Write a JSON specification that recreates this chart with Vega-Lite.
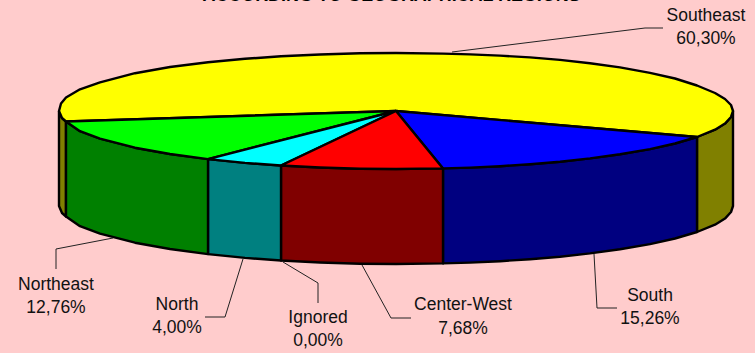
{"$schema":"https://vega.github.io/schema/vega-lite/v6.json","width":755,"height":353,"padding":0,"autosize":"none","background":"#FFCCCC","view":{"stroke":null},
"title":{"text":"ACCORDING TO GEOGRAPHICAL REGIONS","offset":-5,"dx":14,"anchor":"middle","fontSize":17.9,"font":"Liberation Sans","fontWeight":"bold","color":"#000000"},
"datasets":{"pieces":[
{"p":"Southeast side","i":1,"x":697,"y":137},{"p":"Southeast side","i":2,"x":715,"y":129.7},{"p":"Southeast side","i":3,"x":725,"y":123.6},{"p":"Southeast side","i":4,"x":731,"y":117},{"p":"Southeast side","i":5,"x":733,"y":111},{"p":"Southeast side","i":6,"x":733,"y":206},{"p":"Southeast side","i":7,"x":731,"y":212},{"p":"Southeast side","i":8,"x":725,"y":218.6},{"p":"Southeast side","i":9,"x":715,"y":224.7},{"p":"Southeast side","i":10,"x":697,"y":232},{"p":"Southeast side","i":11,"x":697,"y":137},
{"p":"Southeast side left","i":1,"x":59,"y":111},{"p":"Southeast side left","i":2,"x":62,"y":118},{"p":"Southeast side left","i":3,"x":66,"y":121.5},{"p":"Southeast side left","i":4,"x":66,"y":216.5},{"p":"Southeast side left","i":5,"x":62,"y":213},{"p":"Southeast side left","i":6,"x":59,"y":206},{"p":"Southeast side left","i":7,"x":59,"y":111},
{"p":"South side","i":1,"x":443,"y":168.4},{"p":"South side","i":2,"x":470,"y":167.6},{"p":"South side","i":3,"x":500,"y":166.2},{"p":"South side","i":4,"x":530,"y":164.2},{"p":"South side","i":5,"x":560,"y":161.7},{"p":"South side","i":6,"x":590,"y":158.4},{"p":"South side","i":7,"x":620,"y":154.3},{"p":"South side","i":8,"x":650,"y":149.1},{"p":"South side","i":9,"x":675,"y":143.5},{"p":"South side","i":10,"x":697,"y":137},{"p":"South side","i":11,"x":697,"y":232},{"p":"South side","i":12,"x":675,"y":238.5},{"p":"South side","i":13,"x":650,"y":244.1},{"p":"South side","i":14,"x":620,"y":249.3},{"p":"South side","i":15,"x":590,"y":253.4},{"p":"South side","i":16,"x":560,"y":256.7},{"p":"South side","i":17,"x":530,"y":259.2},{"p":"South side","i":18,"x":500,"y":261.2},{"p":"South side","i":19,"x":470,"y":262.6},{"p":"South side","i":20,"x":443,"y":263.4},{"p":"South side","i":21,"x":443,"y":168.4},
{"p":"Center-West side","i":1,"x":281,"y":165.5},{"p":"Center-West side","i":2,"x":320,"y":167.5},{"p":"Center-West side","i":3,"x":360,"y":168.7},{"p":"Center-West side","i":4,"x":396,"y":169},{"p":"Center-West side","i":5,"x":443,"y":168.4},{"p":"Center-West side","i":6,"x":443,"y":263.4},{"p":"Center-West side","i":7,"x":396,"y":264},{"p":"Center-West side","i":8,"x":360,"y":263.7},{"p":"Center-West side","i":9,"x":320,"y":262.5},{"p":"Center-West side","i":10,"x":281,"y":260.5},{"p":"Center-West side","i":11,"x":281,"y":165.5},
{"p":"North side","i":1,"x":208,"y":159.1},{"p":"North side","i":2,"x":245,"y":162.9},{"p":"North side","i":3,"x":281,"y":165.5},{"p":"North side","i":4,"x":281,"y":260.5},{"p":"North side","i":5,"x":245,"y":257.9},{"p":"North side","i":6,"x":208,"y":254.1},{"p":"North side","i":7,"x":208,"y":159.1},
{"p":"Northeast side","i":1,"x":66,"y":121.5},{"p":"Northeast side","i":2,"x":80,"y":131.2},{"p":"Northeast side","i":3,"x":100,"y":138.7},{"p":"Northeast side","i":4,"x":135,"y":147.7},{"p":"Northeast side","i":5,"x":170,"y":154},{"p":"Northeast side","i":6,"x":208,"y":159.1},{"p":"Northeast side","i":7,"x":208,"y":254.1},{"p":"Northeast side","i":8,"x":170,"y":249},{"p":"Northeast side","i":9,"x":135,"y":242.7},{"p":"Northeast side","i":10,"x":100,"y":233.7},{"p":"Northeast side","i":11,"x":80,"y":226.2},{"p":"Northeast side","i":12,"x":66,"y":216.5},{"p":"Northeast side","i":13,"x":66,"y":121.5},
{"p":"Southeast top","i":1,"x":396,"y":111},{"p":"Southeast top","i":2,"x":66,"y":121.5},{"p":"Southeast top","i":3,"x":62,"y":118},{"p":"Southeast top","i":4,"x":59,"y":111},{"p":"Southeast top","i":5,"x":61,"y":103.5},{"p":"Southeast top","i":6,"x":66,"y":97.5},{"p":"Southeast top","i":7,"x":80,"y":89.3},{"p":"Southeast top","i":8,"x":100,"y":82.3},{"p":"Southeast top","i":9,"x":135,"y":73.2},{"p":"Southeast top","i":10,"x":170,"y":67},{"p":"Southeast top","i":11,"x":208,"y":62.2},{"p":"Southeast top","i":12,"x":245,"y":58.8},{"p":"Southeast top","i":13,"x":281,"y":56.3},{"p":"Southeast top","i":14,"x":320,"y":54.5},{"p":"Southeast top","i":15,"x":360,"y":53.3},{"p":"Southeast top","i":16,"x":396,"y":53},{"p":"Southeast top","i":17,"x":443,"y":53.6},{"p":"Southeast top","i":18,"x":470,"y":54.4},{"p":"Southeast top","i":19,"x":500,"y":55.6},{"p":"Southeast top","i":20,"x":530,"y":57.4},{"p":"Southeast top","i":21,"x":560,"y":59.9},{"p":"Southeast top","i":22,"x":590,"y":63.2},{"p":"Southeast top","i":23,"x":620,"y":67.4},{"p":"Southeast top","i":24,"x":650,"y":72.9},{"p":"Southeast top","i":25,"x":675,"y":78.5},{"p":"Southeast top","i":26,"x":697,"y":85.5},{"p":"Southeast top","i":27,"x":715,"y":93},{"p":"Southeast top","i":28,"x":725,"y":99},{"p":"Southeast top","i":29,"x":731,"y":105},{"p":"Southeast top","i":30,"x":733,"y":111},{"p":"Southeast top","i":31,"x":731,"y":117},{"p":"Southeast top","i":32,"x":725,"y":123.6},{"p":"Southeast top","i":33,"x":715,"y":129.7},{"p":"Southeast top","i":34,"x":697,"y":137},{"p":"Southeast top","i":35,"x":396,"y":111},
{"p":"South top","i":1,"x":396,"y":111},{"p":"South top","i":2,"x":443,"y":168.4},{"p":"South top","i":3,"x":470,"y":167.6},{"p":"South top","i":4,"x":500,"y":166.2},{"p":"South top","i":5,"x":530,"y":164.2},{"p":"South top","i":6,"x":560,"y":161.7},{"p":"South top","i":7,"x":590,"y":158.4},{"p":"South top","i":8,"x":620,"y":154.3},{"p":"South top","i":9,"x":650,"y":149.1},{"p":"South top","i":10,"x":675,"y":143.5},{"p":"South top","i":11,"x":697,"y":137},{"p":"South top","i":12,"x":396,"y":111},
{"p":"Northeast top","i":1,"x":396,"y":111},{"p":"Northeast top","i":2,"x":66,"y":121.5},{"p":"Northeast top","i":3,"x":80,"y":131.2},{"p":"Northeast top","i":4,"x":100,"y":138.7},{"p":"Northeast top","i":5,"x":135,"y":147.7},{"p":"Northeast top","i":6,"x":170,"y":154},{"p":"Northeast top","i":7,"x":208,"y":159.1},{"p":"Northeast top","i":8,"x":396,"y":111},
{"p":"North top","i":1,"x":396,"y":111},{"p":"North top","i":2,"x":208,"y":159.1},{"p":"North top","i":3,"x":245,"y":162.9},{"p":"North top","i":4,"x":281,"y":165.5},{"p":"North top","i":5,"x":396,"y":111},
{"p":"Center-West top","i":1,"x":396,"y":111},{"p":"Center-West top","i":2,"x":281,"y":165.5},{"p":"Center-West top","i":3,"x":320,"y":167.5},{"p":"Center-West top","i":4,"x":360,"y":168.7},{"p":"Center-West top","i":5,"x":396,"y":169},{"p":"Center-West top","i":6,"x":443,"y":168.4},{"p":"Center-West top","i":7,"x":396,"y":111}
],
"leaders":[
{"region":"Southeast","i":1,"x":452,"y":52},{"region":"Southeast","i":2,"x":645,"y":28},{"region":"Southeast","i":3,"x":663,"y":28},
{"region":"Northeast","i":1,"x":113,"y":238},{"region":"Northeast","i":2,"x":56,"y":249},{"region":"Northeast","i":3,"x":56,"y":269},
{"region":"North","i":1,"x":243,"y":259},{"region":"North","i":2,"x":225,"y":317},{"region":"North","i":3,"x":205,"y":317},
{"region":"Ignored","i":1,"x":283,"y":262},{"region":"Ignored","i":2,"x":318,"y":283},{"region":"Ignored","i":3,"x":318,"y":303},
{"region":"Center-West","i":1,"x":362,"y":265},{"region":"Center-West","i":2,"x":391,"y":318},{"region":"Center-West","i":3,"x":411,"y":318},
{"region":"South","i":1,"x":594,"y":254},{"region":"South","i":2,"x":597,"y":308},{"region":"South","i":3,"x":617,"y":308}
],
"labels":[
{"region":"Southeast","share":"60,30%","x":706,"y1":16,"y2":39},
{"region":"Northeast","share":"12,76%","x":56,"y1":285,"y2":308},
{"region":"North","share":"4,00%","x":177,"y1":305,"y2":328},
{"region":"Ignored","share":"0,00%","x":318,"y1":318,"y2":341},
{"region":"Center-West","share":"7,68%","x":463,"y1":305,"y2":329},
{"region":"South","share":"15,26%","x":650,"y1":296,"y2":319}
]},
"layer":[
{"data":{"name":"pieces"},"mark":{"type":"line","filled":true,"stroke":"#000000","strokeWidth":2.4,"strokeJoin":"round","clip":false},
"encoding":{"x":{"field":"x","type":"quantitative","scale":{"domain":[0,755],"nice":false,"zero":false},"axis":null},"y":{"field":"y","type":"quantitative","scale":{"domain":[353,0],"nice":false,"zero":false},"axis":null},"order":{"field":"i","type":"quantitative"},"fill":{"field":"p","type":"nominal","legend":null,"scale":{"domain":["Southeast side","Southeast side left","South side","Center-West side","North side","Northeast side","Southeast top","South top","Center-West top","North top","Northeast top"],"range":["#808000","#808000","#000080","#800000","#008080","#008000","#FFFF00","#0000FF","#FF0000","#00FFFF","#00FF00"]}}}},
{"data":{"name":"leaders"},"mark":{"type":"line","color":"#222222","strokeWidth":1},
"encoding":{"x":{"field":"x","type":"quantitative","scale":{"domain":[0,755],"nice":false,"zero":false},"axis":null},"y":{"field":"y","type":"quantitative","scale":{"domain":[353,0],"nice":false,"zero":false},"axis":null},"order":{"field":"i","type":"quantitative"},"detail":{"field":"region"}}},
{"data":{"name":"labels"},"mark":{"type":"text","font":"Liberation Sans","fontSize":17.5,"color":"#111111","align":"center","baseline":"middle"},
"encoding":{"x":{"field":"x","type":"quantitative","scale":{"domain":[0,755],"nice":false,"zero":false},"axis":null},"y":{"field":"y1","type":"quantitative","scale":{"domain":[353,0],"nice":false,"zero":false},"axis":null},"text":{"field":"region"}}},
{"data":{"name":"labels"},"mark":{"type":"text","font":"Liberation Sans","fontSize":17.5,"color":"#111111","align":"center","baseline":"middle"},
"encoding":{"x":{"field":"x","type":"quantitative","scale":{"domain":[0,755],"nice":false,"zero":false},"axis":null},"y":{"field":"y2","type":"quantitative","scale":{"domain":[353,0],"nice":false,"zero":false},"axis":null},"text":{"field":"share"}}}
]}
